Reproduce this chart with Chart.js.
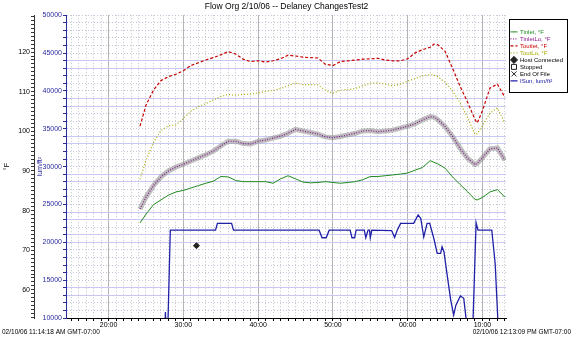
<!DOCTYPE html>
<html>
<head>
<meta charset="utf-8">
<title>Flow Org 2/10/06 -- Delaney ChangesTest2</title>
<script src="https://cdn.jsdelivr.net/npm/chart.js@4.4.0/dist/chart.umd.min.js"></script>
<style>
  html, body { margin: 0; padding: 0; background: #fff; }
</style>
</head>
<body>
<canvas id="flowChart" width="575" height="341"></canvas>
<script>
// Run of 2/10/06, minutes after 11:00 (11:14:18 .. 12:13:09)
const runStart = 14.3;
const runEnd = 73.15;
const chartTitle = 'Flow Org 2/10/06 -- Delaney ChangesTest2';
const startStamp = '02/10/06 11:14:18 AM GMT-07:00';
const endStamp = '02/10/06 12:13:09 PM GMT-07:00';

// temperature logger samples (°F)
const minutes = [24.2, 25, 26, 27, 28, 29, 30, 31, 32, 33, 34, 35, 36, 37, 38, 39, 40, 41, 42, 43,
  44, 45, 46, 47, 48, 49, 50, 51, 52, 53, 54, 55, 56, 57, 58, 59, 60, 61, 62, 63, 63.5,
  64, 65, 66, 67, 68, 69, 69.3, 70, 71, 72, 73];
const tinlet = [76.9, 79.1, 81.5, 82.7, 83.9, 84.7, 85.1, 85.7, 86.3, 86.9, 87.4, 88.6, 88.5, 87.6,
  87.3, 87.3, 87.3, 87.3, 86.9, 88.0, 88.8, 88.0, 87.2, 87.0, 87.1, 87.3, 87.1, 86.9, 87.1, 87.3,
  87.8, 88.6, 88.6, 88.8, 89.0, 89.2, 89.5, 90.2, 90.9, 92.6, 92.2, 91.8, 90.7, 88.5, 86.6, 84.8,
  82.8, 82.7, 83.3, 84.7, 85.3, 83.4];
const tinletLo = [80.4, 83.4, 86.3, 88.5, 90.0, 91.0, 91.7, 92.5, 93.3, 94.1, 95.0, 96.3, 97.5, 97.5,
  96.9, 96.8, 97.5, 97.8, 98.3, 98.8, 99.5, 100.5, 100.1, 99.7, 99.3, 98.6, 98.4, 98.7, 99.1, 99.5,
  100.1, 100.2, 99.9, 100.1, 100.3, 100.8, 101.3, 101.9, 102.9, 103.7, 103.6, 103.0, 101.2, 98.7,
  95.7, 93.2, 91.6, 91.9, 93.3, 95.6, 95.8, 92.7];
const toutlet = [101.3, 106.6, 110.4, 112.8, 113.8, 114.4, 115.3, 116.6, 117.3, 118.0, 118.6, 119.3,
  120.1, 119.5, 118.2, 117.6, 117.8, 117.5, 117.8, 118.3, 119.2, 119.0, 118.7, 118.6, 118.5, 116.9,
  116.6, 117.6, 117.8, 118.0, 118.2, 118.3, 118.4, 118.0, 117.8, 117.8, 118.3, 119.8, 120.6, 121.2,
  122.0, 121.9, 120.2, 115.9, 111.4, 107.4, 103.0, 102.1, 105.2, 110.9, 111.9, 108.6];
const toutLo = [87.9, 92.7, 97.2, 100.2, 101.4, 101.6, 103.2, 105.1, 106.2, 107.0, 107.9, 108.8, 109.3,
  109.1, 109.3, 109.4, 109.7, 110.1, 110.3, 110.8, 111.5, 112.2, 111.8, 111.8, 111.7, 110.4, 109.6,
  110.4, 110.5, 110.8, 111.5, 112.1, 112.2, 111.9, 111.5, 111.9, 112.7, 113.3, 114.0, 114.3, 114.2,
  113.8, 112.4, 110.2, 107.2, 103.5, 99.2, 99.4, 101.4, 104.6, 105.9, 102.1];

// sun sensor (lum/ft²), logged on change
const sunMinutes = [27.5, 27.6, 27.7, 27.9, 28.25, 34.3, 34.55, 36.45, 36.7, 48.15, 48.55, 49.1, 49.5,
  52.3, 52.55, 52.9, 53.1, 54.2, 54.4, 54.7, 54.9, 55.0, 55.2, 57.85, 58.25, 58.6, 59.05, 60.8,
  61.4, 61.75, 62.15, 62.6, 62.95, 63.5, 63.95, 64.4, 64.6, 64.85, 65.25, 65.75, 66.15, 66.45,
  67.05, 67.5, 67.8, 68.0, 68.55, 68.75, 69.15, 69.4, 71.25, 71.7, 72.05, 72.2, 73.1];
const sunLum = [8000, 10800, 8000, 8000, 21600, 21600, 22500, 22500, 21600, 21600, 20600, 20600, 21600,
  21600, 20600, 20600, 21600, 21600, 20600, 21600, 21600, 20600, 21600, 21550, 20650, 21600, 22500, 22500,
  23600, 23150, 20700, 22500, 22500, 20500, 18550, 18550, 19400, 18750, 15900, 12400, 10400, 11700,
  12900, 12600, 10000, 8000, 8000, 10000, 22600, 21600, 21600, 17200, 10000, 8000, 8000];

// events
const hostConnected = [{ x: 31.75, y: 19550 }];
const stopped = [];
const endOfFile = [];

// axis ticks
const fTicks = Array.from({ length: 77 }, (_, i) => 53 + i);
const lumTicks = Array.from({ length: 41 }, (_, i) => 10000 + i * 1000);
const minuteTicks = Array.from({ length: 59 }, (_, i) => 15 + i);
const lumBands = [44000, 43000, 39000, 38000, 34000, 33000, 29000, 28000, 24000, 23000, 21000, 20000, 14000, 13000];

const font = '"Liberation Sans", Arial, sans-serif';
const legendFontSize = 6;

const series = (label, values, color, dash, width) => ({
  label,
  data: minutes.map((m, i) => ({ x: m, y: values[i] })),
  yAxisID: 'yF',
  borderColor: color,
  backgroundColor: color,
  borderWidth: width,
  borderDash: dash,
  pointRadius: 0,
  pointStyle: 'line',
  legendColor: color
});

const marker = (label, data, style, fill) => ({
  label,
  data,
  yAxisID: 'yLum',
  showLine: false,
  pointStyle: style,
  pointRadius: 3,
  borderColor: '#222',
  backgroundColor: fill,
  borderWidth: 1,
  legendColor: '#000'
});

const datasets = [
  series('Tinlet, °F', tinlet, '#1f8a1f', [], 1),
  series('TinletLo, °F', tinletLo, '#8a1a8a', [1, 1.5], 1.2),
  series('Toutlet, °F', toutlet, '#c80000', [3, 2], 1.2),
  series('ToutLo, °F', toutLo, '#a8a800', [1, 2], 1.2),
  marker('Host Connected', hostConnected, 'rectRot', '#222'),
  marker('Stopped', stopped, 'rect', 'rgba(0,0,0,0)'),
  marker('End Of File', endOfFile, 'crossRot', '#000'),
  {
    label: 'ISun, lum/ft²',
    data: sunMinutes.map((m, i) => ({ x: m, y: sunLum[i] })),
    yAxisID: 'yLum',
    borderColor: '#2020a8',
    backgroundColor: '#2020a8',
    borderWidth: 1.3,
    pointRadius: 0,
    pointStyle: 'line',
    legendColor: '#2020a8'
  },
  // grey band under TinletLo
  {
    label: 'halo',
    data: minutes.map((m, i) => ({ x: m, y: tinletLo[i] })),
    yAxisID: 'yF',
    borderColor: 'rgba(140,140,140,0.55)',
    borderWidth: 5,
    pointRadius: 0
  }
];

// width the legend column needs (Chart.js adds 10px to vertical legends)
const measure = document.createElement('canvas').getContext('2d');
measure.font = `${legendFontSize}px ${font}`;
const legendTextW = Math.max(...datasets.slice(0, 8).map(d => measure.measureText(d.label).width));
const legendW = 1 + legendFontSize + legendFontSize / 2 + legendTextW + 10;
const legendLeft = 510;

const clock = v => String(v % 60).padStart(2, '0') + ':00';

// legend frame + run timestamps
const frame = {
  id: 'frame',
  afterDraw(chart) {
    const { ctx, legend, chartArea } = chart;
    const hb = legend.legendHitBoxes;
    ctx.save();
    if (hb && hb.length) {
      const last = hb[hb.length - 1];
      const top = Math.round(hb[0].top - 10) + 0.5;
      const bottom = Math.round(last.top + last.height + 8) + 0.5;
      const left = Math.round(chartArea.right + 3) + 0.5;
      const right = chart.width - 8 + 0.5;
      ctx.strokeStyle = '#000';
      ctx.lineWidth = 1;
      ctx.strokeRect(left, top, right - left, bottom - top);
    }
    ctx.fillStyle = '#000';
    ctx.font = '6.5px ' + font;
    ctx.textBaseline = 'middle';
    ctx.textAlign = 'left';
    ctx.fillText(startStamp, 2, 332);
    ctx.textAlign = 'right';
    ctx.fillText(endStamp, 571, 332);
    ctx.restore();
  }
};

new Chart(document.getElementById('flowChart'), {
  type: 'line',
  data: { datasets },
  plugins: [frame],
  options: {
    responsive: false,
    animation: false,
    layout: { padding: { top: 0, right: 575 - legendLeft - legendW, bottom: 10, left: 0 } },
    plugins: {
      title: {
        display: true,
        text: chartTitle,
        color: '#000',
        font: { family: font, size: 8.5, weight: 'normal' },
        padding: { top: 2, bottom: 3 }
      },
      legend: {
        position: 'right',
        align: 'start',
        fullSize: false,
        title: { display: true, text: '', font: { family: font, size: 6 }, padding: { top: 3, bottom: 2.5 } },
        labels: {
          usePointStyle: true,
          boxHeight: 5,
          padding: 1,
          font: { family: font, size: legendFontSize },
          filter: item => item.text !== 'halo',
          generateLabels(chart) {
            const items = Chart.defaults.plugins.legend.labels.generateLabels(chart);
            return items.map(it => {
              const ds = chart.data.datasets[it.datasetIndex];
              it.fontColor = ds.legendColor || '#000';
              if (ds.pointStyle === 'line') {
                it.strokeStyle = ds.borderColor;
                it.lineWidth = ds.borderWidth;
                it.lineDash = ds.borderDash || [];
              }
              return it;
            });
          }
        }
      },
      tooltip: { enabled: false }
    },
    scales: {
      x: {
        type: 'linear',
        position: 'bottom',
        min: runStart,
        max: runEnd,
        afterBuildTicks: s => { s.ticks = minuteTicks.map(v => ({ value: v })); },
        afterFit: s => { s.height = 13; },
        grid: { color: '#c4c4c4', tickColor: '#000', tickLength: 3 },
        border: { color: '#000', dash: [1, 2] },
        ticks: {
          autoSkip: false, maxRotation: 0, padding: 0, color: '#000',
          font: { family: font, size: 7 },
          callback: v => (v % 10 === 0 ? clock(v) : '')
        }
      },
      xMajor: {
        type: 'linear',
        position: 'bottom',
        min: runStart,
        max: runEnd,
        afterBuildTicks: s => { s.ticks = minuteTicks.filter(v => v % 10 === 0).map(v => ({ value: v })); },
        afterFit: s => { s.height = 0; },
        grid: { color: '#b4b4b4', drawTicks: false },
        border: { display: false },
        ticks: { display: false }
      },
      yF: {
        type: 'linear',
        position: 'left',
        weight: 1,
        min: 52.9,
        max: 129.3,
        afterBuildTicks: s => { s.ticks = fTicks.map(v => ({ value: v })); },
        afterFit: s => { s.width = 34; },
        grid: { drawOnChartArea: false, tickColor: '#333', tickLength: 3 },
        border: { color: '#333' },
        title: { display: true, text: '°F', color: '#000', font: { family: font, size: 7 }, padding: 3 },
        ticks: {
          autoSkip: false, padding: 1, color: '#000',
          font: { family: font, size: 7 },
          callback: v => (v % 10 === 0 ? String(v) : '')
        }
      },
      yLum: {
        type: 'linear',
        position: 'left',
        weight: 0,
        min: 10000,
        max: 50000,
        afterBuildTicks: s => { s.ticks = lumTicks.map(v => ({ value: v })); },
        afterFit: s => { s.width = 32; },
        grid: { color: '#c4c4dc', tickColor: '#2a2aa0', tickLength: 3 },
        border: { color: '#2a2aa0', dash: [1, 2] },
        title: { display: true, text: 'lum/ft²', color: '#2a2aa0', font: { family: font, size: 7 }, padding: 2 },
        ticks: {
          autoSkip: false, padding: 1, color: '#2a2aa0',
          font: { family: font, size: 7 },
          callback: v => (v % 5000 === 0 ? String(v) : '')
        }
      },
      yBands: {
        type: 'linear',
        position: 'right',
        min: 10000,
        max: 50000,
        afterBuildTicks: s => { s.ticks = lumBands.map(v => ({ value: v })); },
        afterFit: s => { s.width = 4; },
        grid: { color: '#c8c8f2', drawTicks: false },
        border: { display: false },
        ticks: { display: false }
      }
    }
  }
});
</script>
</body>
</html>
